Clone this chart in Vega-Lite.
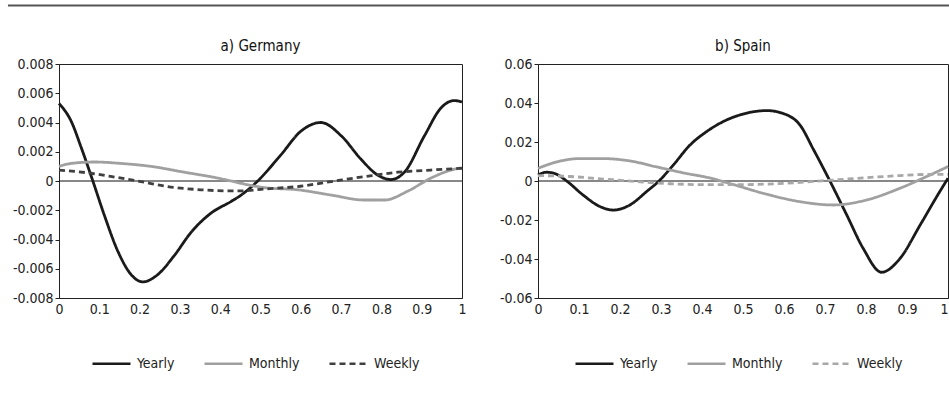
{
  "$schema": "https://vega.github.io/schema/vega-lite/v6.json",
  "background": "white",
  "padding": {"left": 6, "top": 4, "right": 0, "bottom": 0},
  "config": {
    "font": "DejaVu Sans Condensed, sans-serif",
    "view": {"stroke": "#222", "strokeWidth": 1},
    "axis": {"labelFont": "DejaVu Sans Condensed, sans-serif", "labelFontSize": 14, "labelColor": "#222", "domainColor": "#222", "tickColor": "#222", "grid": false, "title": null, "labelOverlap": false},
    "title": {"font": "DejaVu Sans Condensed, sans-serif", "fontSize": 15, "fontWeight": "normal", "color": "#111", "offset": 3},
    "legend": {"labelFont": "DejaVu Sans Condensed, sans-serif", "labelFontSize": 14, "labelColor": "#222"}
  },
  "datasets": {
    "curves": [
      {"c":"G","s":"Yearly","x":0,"y":0.0053},{"c":"G","s":"Yearly","x":0.03,"y":0.0041},{"c":"G","s":"Yearly","x":0.055,"y":0.0023},{"c":"G","s":"Yearly","x":0.084,"y":0},{"c":"G","s":"Yearly","x":0.112,"y":-0.0023},{"c":"G","s":"Yearly","x":0.146,"y":-0.0048},{"c":"G","s":"Yearly","x":0.179,"y":-0.0064},{"c":"G","s":"Yearly","x":0.208,"y":-0.0069},{"c":"G","s":"Yearly","x":0.245,"y":-0.0064},{"c":"G","s":"Yearly","x":0.286,"y":-0.0051},{"c":"G","s":"Yearly","x":0.328,"y":-0.0035},{"c":"G","s":"Yearly","x":0.377,"y":-0.0022},{"c":"G","s":"Yearly","x":0.427,"y":-0.0014},{"c":"G","s":"Yearly","x":0.452,"y":-0.00096},{"c":"G","s":"Yearly","x":0.493,"y":0},{"c":"G","s":"Yearly","x":0.551,"y":0.0018},{"c":"G","s":"Yearly","x":0.6,"y":0.0034},{"c":"G","s":"Yearly","x":0.65,"y":0.004},{"c":"G","s":"Yearly","x":0.7,"y":0.0031},{"c":"G","s":"Yearly","x":0.749,"y":0.0015},{"c":"G","s":"Yearly","x":0.791,"y":0.0004},{"c":"G","s":"Yearly","x":0.824,"y":0.0001},{"c":"G","s":"Yearly","x":0.857,"y":0.0006},{"c":"G","s":"Yearly","x":0.907,"y":0.0031},{"c":"G","s":"Yearly","x":0.948,"y":0.005},{"c":"G","s":"Yearly","x":0.981,"y":0.0055},{"c":"G","s":"Yearly","x":1,"y":0.0054},
      {"c":"G","s":"Monthly","x":0,"y":0.001},{"c":"G","s":"Monthly","x":0.03,"y":0.0012},{"c":"G","s":"Monthly","x":0.088,"y":0.0013},{"c":"G","s":"Monthly","x":0.154,"y":0.0012},{"c":"G","s":"Monthly","x":0.228,"y":0.001},{"c":"G","s":"Monthly","x":0.311,"y":0.0006},{"c":"G","s":"Monthly","x":0.394,"y":0.0002},{"c":"G","s":"Monthly","x":0.427,"y":0},{"c":"G","s":"Monthly","x":0.452,"y":-0.00016},{"c":"G","s":"Monthly","x":0.509,"y":-0.00045},{"c":"G","s":"Monthly","x":0.592,"y":-0.0006},{"c":"G","s":"Monthly","x":0.675,"y":-0.00096},{"c":"G","s":"Monthly","x":0.758,"y":-0.0013},{"c":"G","s":"Monthly","x":0.808,"y":-0.0013},{"c":"G","s":"Monthly","x":0.865,"y":-0.0007},{"c":"G","s":"Monthly","x":0.923,"y":0.0002},{"c":"G","s":"Monthly","x":0.973,"y":0.00075},{"c":"G","s":"Monthly","x":1,"y":0.0009},
      {"c":"G","s":"Weekly","x":0,"y":0.00075},{"c":"G","s":"Weekly","x":0.079,"y":0.00053},{"c":"G","s":"Weekly","x":0.146,"y":0.00023},{"c":"G","s":"Weekly","x":0.203,"y":-0.00004},{"c":"G","s":"Weekly","x":0.27,"y":-0.00038},{"c":"G","s":"Weekly","x":0.352,"y":-0.0006},{"c":"G","s":"Weekly","x":0.427,"y":-0.00068},{"c":"G","s":"Weekly","x":0.452,"y":-0.00068},{"c":"G","s":"Weekly","x":0.509,"y":-0.00055},{"c":"G","s":"Weekly","x":0.592,"y":-0.00038},{"c":"G","s":"Weekly","x":0.675,"y":-0.00004},{"c":"G","s":"Weekly","x":0.758,"y":0.0003},{"c":"G","s":"Weekly","x":0.84,"y":0.0006},{"c":"G","s":"Weekly","x":0.923,"y":0.00075},{"c":"G","s":"Weekly","x":1,"y":0.00087},
      {"c":"S","s":"Yearly","x":0,"y":0.0031},{"c":"S","s":"Yearly","x":0.021,"y":0.0045},{"c":"S","s":"Yearly","x":0.046,"y":0.0034},{"c":"S","s":"Yearly","x":0.07,"y":0},{"c":"S","s":"Yearly","x":0.11,"y":-0.0072},{"c":"S","s":"Yearly","x":0.151,"y":-0.0131},{"c":"S","s":"Yearly","x":0.184,"y":-0.0149},{"c":"S","s":"Yearly","x":0.224,"y":-0.0123},{"c":"S","s":"Yearly","x":0.265,"y":-0.0054},{"c":"S","s":"Yearly","x":0.295,"y":0},{"c":"S","s":"Yearly","x":0.33,"y":0.0082},{"c":"S","s":"Yearly","x":0.371,"y":0.0185},{"c":"S","s":"Yearly","x":0.411,"y":0.0253},{"c":"S","s":"Yearly","x":0.452,"y":0.0305},{"c":"S","s":"Yearly","x":0.493,"y":0.0339},{"c":"S","s":"Yearly","x":0.558,"y":0.0361},{"c":"S","s":"Yearly","x":0.607,"y":0.0339},{"c":"S","s":"Yearly","x":0.639,"y":0.0287},{"c":"S","s":"Yearly","x":0.671,"y":0.0165},{"c":"S","s":"Yearly","x":0.712,"y":0},{"c":"S","s":"Yearly","x":0.753,"y":-0.0174},{"c":"S","s":"Yearly","x":0.793,"y":-0.0345},{"c":"S","s":"Yearly","x":0.838,"y":-0.0468},{"c":"S","s":"Yearly","x":0.883,"y":-0.0397},{"c":"S","s":"Yearly","x":0.932,"y":-0.0226},{"c":"S","s":"Yearly","x":0.98,"y":-0.0054},{"c":"S","s":"Yearly","x":1,"y":0.0014},
      {"c":"S","s":"Monthly","x":0,"y":0.0065},{"c":"S","s":"Monthly","x":0.046,"y":0.0098},{"c":"S","s":"Monthly","x":0.102,"y":0.0115},{"c":"S","s":"Monthly","x":0.159,"y":0.0115},{"c":"S","s":"Monthly","x":0.224,"y":0.0103},{"c":"S","s":"Monthly","x":0.29,"y":0.0072},{"c":"S","s":"Monthly","x":0.354,"y":0.0042},{"c":"S","s":"Monthly","x":0.42,"y":0.0015},{"c":"S","s":"Monthly","x":0.476,"y":-0.0018},{"c":"S","s":"Monthly","x":0.558,"y":-0.0068},{"c":"S","s":"Monthly","x":0.639,"y":-0.0106},{"c":"S","s":"Monthly","x":0.72,"y":-0.0123},{"c":"S","s":"Monthly","x":0.802,"y":-0.0097},{"c":"S","s":"Monthly","x":0.883,"y":-0.0037},{"c":"S","s":"Monthly","x":0.948,"y":0.0023},{"c":"S","s":"Monthly","x":1,"y":0.0074},
      {"c":"S","s":"Weekly","x":0,"y":0.0028},{"c":"S","s":"Weekly","x":0.078,"y":0.0023},{"c":"S","s":"Weekly","x":0.159,"y":0.001},{"c":"S","s":"Weekly","x":0.241,"y":-0.0003},{"c":"S","s":"Weekly","x":0.322,"y":-0.0014},{"c":"S","s":"Weekly","x":0.42,"y":-0.0019},{"c":"S","s":"Weekly","x":0.476,"y":-0.0019},{"c":"S","s":"Weekly","x":0.558,"y":-0.0016},{"c":"S","s":"Weekly","x":0.639,"y":-0.0007},{"c":"S","s":"Weekly","x":0.72,"y":0.0005},{"c":"S","s":"Weekly","x":0.802,"y":0.0017},{"c":"S","s":"Weekly","x":0.883,"y":0.0028},{"c":"S","s":"Weekly","x":0.964,"y":0.0034},{"c":"S","s":"Weekly","x":1,"y":0.0034}
    ],
    "topline": [{"a": -0.0573, "b": 1}],
    "zero": [{"z": 0}]
  },
  "vconcat": [
    {
      "width": 891, "height": 1,
      "view": {"stroke": null},
      "data": {"name": "topline"},
      "mark": {"type": "rule", "color": "#555", "strokeWidth": 2, "clip": false},
      "encoding": {
        "x": {"field": "a", "type": "quantitative", "scale": {"domain": [0, 1], "nice": false, "zero": false}, "axis": null},
        "x2": {"field": "b"}
      }
    },
    {
      "hconcat": [
        {
          "title": "a) Germany",
          "width": 403, "height": 234,
          "layer": [
            {
              "data": {"name": "zero"},
              "mark": {"type": "rule", "color": "#111", "strokeWidth": 1},
              "encoding": {"y": {"field": "z", "type": "quantitative", "scale": {"domain": [-0.008, 0.008], "nice": false},
                      "axis": {"values": [-0.008,-0.006,-0.004,-0.002,0,0.002,0.004,0.006,0.008], "tickSize": 4, "labelPadding": 2, "minExtent": 51, "labelOverlap": false, "labelExpr": "datum.value == 0 ? '0' : replace(format(datum.value, '.3f'), '\u2212', '-')"}}}
            },
            {
              "data": {"name": "curves"},
              "transform": [{"filter": "datum.c === 'G'"}],
              "mark": {"type": "line", "interpolate": "monotone", "strokeWidth": 2.8},
              "encoding": {
                "x": {"field": "x", "type": "quantitative", "scale": {"domain": [0, 1], "nice": false},
                      "axis": {"values": [0,0.1,0.2,0.3,0.4,0.5,0.6,0.7,0.8,0.9,1], "ticks": false, "labelPadding": 4, "labelOverlap": false, "labelExpr": "datum.value == 0 ? '0' : datum.value == 1 ? '1' : format(datum.value, '.1f')", "labelFlush": false}},
                "y": {"field": "y", "type": "quantitative", "scale": {"domain": [-0.008, 0.008], "nice": false},
                      "axis": {"values": [-0.008,-0.006,-0.004,-0.002,0,0.002,0.004,0.006,0.008], "tickSize": 4, "labelPadding": 2, "minExtent": 51, "labelOverlap": false, "labelExpr": "datum.value == 0 ? '0' : replace(format(datum.value, '.3f'), '\u2212', '-')"}},
                "color": {"field": "s", "type": "nominal", "scale": {"domain": ["Yearly", "Monthly", "Weekly"], "range": ["#1a1a1a", "#a0a0a0", "#404040"]},
                          "legend": {"title": null, "orient": "none", "legendX": 32, "legendY": 279, "direction": "horizontal", "symbolType": "stroke", "symbolSize": 1444, "symbolStrokeWidth": 2.5, "columnPadding": 24, "labelOffset": 5}},
                "strokeDash": {"field": "s", "type": "nominal", "scale": {"domain": ["Yearly", "Monthly", "Weekly"], "range": [[1, 0], [1, 0], [6, 4]]}, "legend": {"title": null, "orient": "none", "legendX": 32, "legendY": 279, "direction": "horizontal", "symbolType": "stroke", "symbolSize": 1444, "symbolStrokeWidth": 2.5, "columnPadding": 24, "labelOffset": 5}}
              }
            }
          ]
        },
        {
          "title": "b) Spain",
          "width": 410, "height": 234,
          "layer": [
            {
              "data": {"name": "zero"},
              "mark": {"type": "rule", "color": "#111", "strokeWidth": 1},
              "encoding": {"y": {"field": "z", "type": "quantitative", "scale": {"domain": [-0.06, 0.06], "nice": false},
                      "axis": {"values": [-0.06,-0.04,-0.02,0,0.02,0.04,0.06], "tickSize": 4, "labelPadding": 2, "minExtent": 41, "labelOverlap": false, "labelExpr": "datum.value == 0 ? '0' : replace(format(datum.value, '.2f'), '\u2212', '-')"}}}
            },
            {
              "data": {"name": "curves"},
              "transform": [{"filter": "datum.c === 'S'"}],
              "mark": {"type": "line", "interpolate": "monotone", "strokeWidth": 2.8},
              "encoding": {
                "x": {"field": "x", "type": "quantitative", "scale": {"domain": [0, 1], "nice": false},
                      "axis": {"values": [0,0.1,0.2,0.3,0.4,0.5,0.6,0.7,0.8,0.9,1], "ticks": false, "labelPadding": 4, "labelOverlap": false, "labelAlign": {"condition": {"test": "datum.value == 1", "value": "right"}, "value": "center"}, "labelExpr": "datum.value == 0 ? '0' : datum.value == 1 ? '1' : format(datum.value, '.1f')", "labelFlush": false}},
                "y": {"field": "y", "type": "quantitative", "scale": {"domain": [-0.06, 0.06], "nice": false},
                      "axis": {"values": [-0.06,-0.04,-0.02,0,0.02,0.04,0.06], "tickSize": 4, "labelPadding": 2, "minExtent": 41, "labelOverlap": false, "labelExpr": "datum.value == 0 ? '0' : replace(format(datum.value, '.2f'), '\u2212', '-')"}},
                "color": {"field": "s", "type": "nominal", "scale": {"domain": ["Yearly", "Monthly", "Weekly"], "range": ["#1a1a1a", "#a0a0a0", "#a8a8a8"]},
                          "legend": {"title": null, "orient": "none", "legendX": 36, "legendY": 279, "direction": "horizontal", "symbolType": "stroke", "symbolSize": 1444, "symbolStrokeWidth": 2.5, "columnPadding": 24, "labelOffset": 5,
                                     "encode": {"symbols": {"update": {"stroke": [{"test": "datum.value === 'Yearly'", "value": "#1a1a1a"}, {"test": "datum.value === 'Monthly'", "value": "#a0a0a0"}, {"value": "#404040"}]}}}}},
                "strokeDash": {"field": "s", "type": "nominal", "scale": {"domain": ["Yearly", "Monthly", "Weekly"], "range": [[1, 0], [1, 0], [6, 4]]}, "legend": {"title": null, "orient": "none", "legendX": 36, "legendY": 279, "direction": "horizontal", "symbolType": "stroke", "symbolSize": 1444, "symbolStrokeWidth": 2.5, "columnPadding": 24, "labelOffset": 5,
                                     "encode": {"symbols": {"update": {"stroke": [{"test": "datum.value === 'Yearly'", "value": "#1a1a1a"}, {"test": "datum.value === 'Monthly'", "value": "#a0a0a0"}, {"value": "#404040"}]}}}}}
              }
            }
          ]
        }
      ],
      "spacing": 27,
      "resolve": {"scale": {"x": "independent", "y": "independent", "color": "independent", "strokeDash": "independent"}, "legend": {"color": "independent", "strokeDash": "independent"}}
    }
  ],
  "spacing": 31
}
